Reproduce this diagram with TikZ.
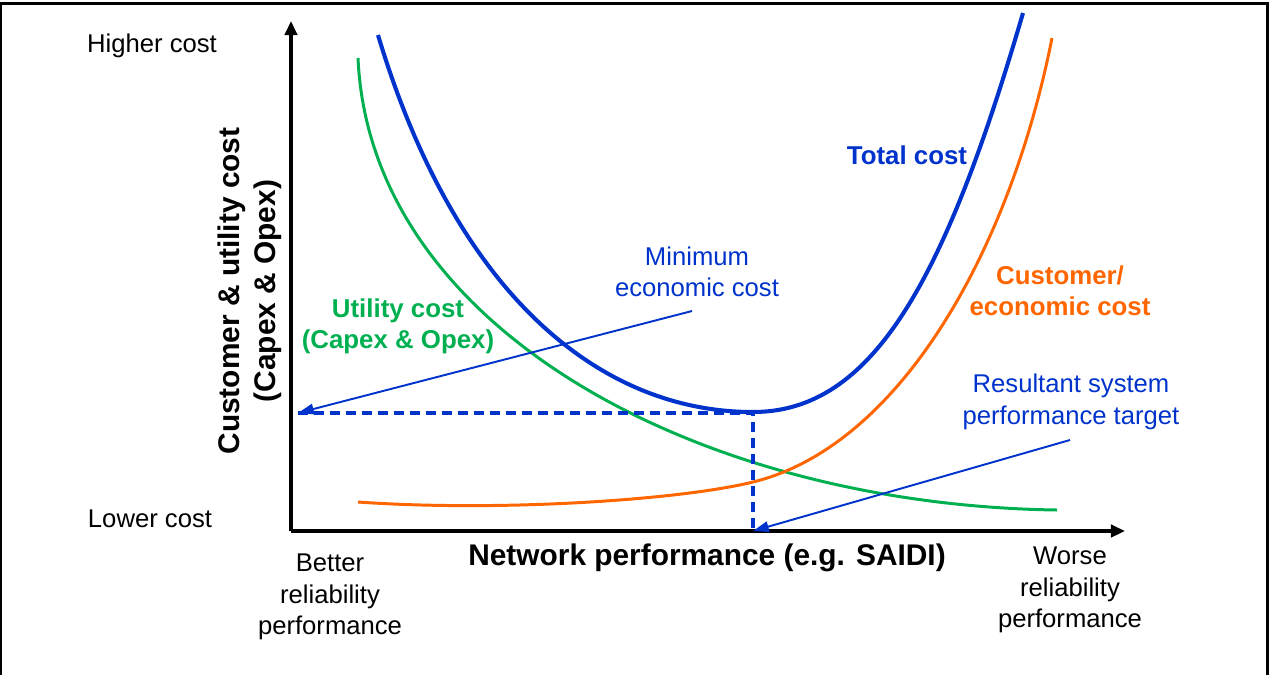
\documentclass[tikz,border=0pt]{standalone}
\usepackage{fontspec}
\setmainfont{Liberation Sans}
\usetikzlibrary{arrows.meta}
\definecolor{totblue}{RGB}{0,51,204}
\definecolor{utilgreen}{RGB}{0,176,80}
\definecolor{custorange}{RGB}{255,102,0}
\tikzset{
    lbl/.style={font=\fontsize{14.6}{17.9}\selectfont, align=center, inner sep=0pt},
    curvelbl/.style={font=\fontsize{14.7}{17.6}\selectfont\bfseries, align=center, inner sep=0pt},
    axistitle/.style={font=\fontsize{17}{20.4}\selectfont\bfseries, align=center, inner sep=0pt},
    axisline/.style={line width=2.2pt, -{Triangle[length=8pt,width=7pt]}},
    pointer/.style={totblue, line width=1.1pt, -{Triangle[length=9pt,width=6pt]}},
    guide/.style={totblue, line width=1.8pt, dash pattern=on 5.7pt off 3.4pt}
}
\begin{document}
\begin{tikzpicture}[x=0.02cm,y=-0.02cm]
                    \useasboundingbox (0,0) rectangle (1271,674);
                    \draw [line width=1.7pt] (1,690)--(1,3)--(1267,3)--(1267,690);

                    \coordinate (origin) at (291,531);
                    \coordinate (ytip) at (291,21);
                    \coordinate (xtip) at (1125,531);
                    \draw [axisline] (origin)--(ytip);
                    \draw [axisline] (origin)--(xtip);

                    \node [lbl] (higher) at (152,46) {Higher cost};
                    \node [lbl] (lower) at (150,519) {Lower cost};
                    \node [lbl] (better) at (330,597) {Better\\reliability\\performance};
                    \node [lbl] (worse) at (1070,590) {Worse\\reliability\\performance};
                    \node [axistitle] (xtitle) at (707,558) {Network performance (e.g. SAIDI)};
                    \node [axistitle, rotate=90] (ytitle) at (250,291) {Customer \& utility cost\\(Capex \& Opex)};

                    \draw [utilgreen, line width=1.7pt] (358,58) .. controls (370,330) and (700,505) .. (1057,510);
                    \draw [custorange, line width=1.7pt] (358,502) .. controls (500,512) and (680,500) .. (753,482)
                          .. controls (900,446) and (1010,250) .. (1052,38);
                    \draw [totblue, line width=2.3pt] (378,35) .. controls (456,295) and (600,412) .. (753,412)
                          .. controls (873,412) and (945,280) .. (1023,13);

                    \node [curvelbl, totblue] (totlbl) at (907,155) {Total cost};
                    \node [curvelbl, custorange] (custlbl) at (1060,291) {Customer/\\economic cost};
                    \node [curvelbl, utilgreen] (utillbl) at (398,326) {Utility cost\\(Capex \& Opex)};

                    \coordinate (mincost) at (753,413);
                    \coordinate (minaxis) at (298,413);
                    \coordinate (target) at (753,531);
                    \draw [guide] (minaxis)--(mincost)--(target);

                    \node [lbl, totblue] (minlbl) at (697,272) {Minimum\\economic cost};
                    \coordinate (minfoot) at (692,311);
                    \draw [pointer] (minfoot)--(minaxis);

                    \node [lbl, totblue] (targetlbl) at (1071,402) {Resultant system\\performance target};
                    \coordinate (targetfoot) at (1070,440);
                    \draw [pointer] (targetfoot)--(target);
\end{tikzpicture}
\end{document}
